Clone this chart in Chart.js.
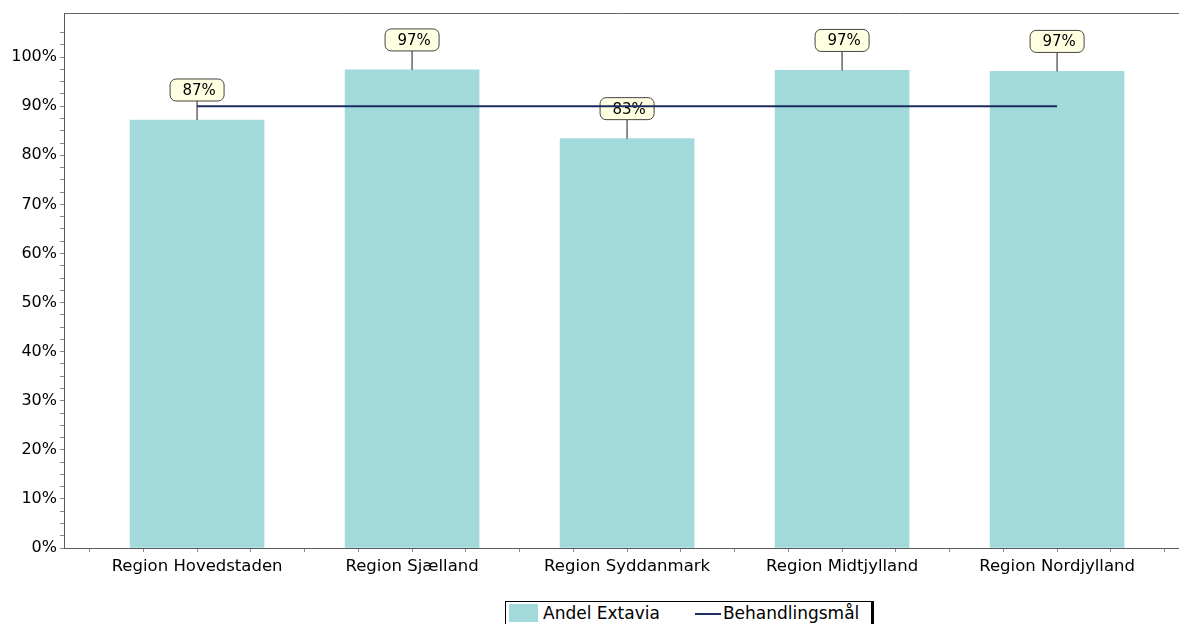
<!DOCTYPE html>
<html>
<head>
<meta charset="utf-8">
<script src="https://cdn.jsdelivr.net/npm/chart.js@4.4.1/dist/chart.umd.min.js"></script>
<style>
    html, body { margin: 0; padding: 0; background: #fff; }
    #wrap { position: relative; width: 1179px; height: 624px; overflow: hidden; }
    #legend {
        position: absolute; left: 505px; top: 601px; height: 30px;
        border-left: 1px solid #000; border-top: 1px solid #000; border-right: 3px solid #000;
        display: flex; align-items: flex-start; padding: 2px 12px 0 3px;
        font: 17px "DejaVu Sans", sans-serif; color: #000; background: #fff;
    }
    #legend .swatch { width: 29px; height: 18px; background: #A2DADC; margin-right: 5px; }
    #legend .line { width: 26px; height: 0; border-top: 2px solid #1C2C5E; margin: 9px 2px 0 35px; }
    #legend span.txt { line-height: 19px; }
</style>
</head>
<body>
<div id="wrap">
    <canvas id="extaviaChart" width="1179" height="624"></canvas>
    <div id="legend">
        <div class="swatch"></div><span class="txt">Andel Extavia</span>
        <div class="line"></div><span class="txt">Behandlingsmål</span>
    </div>
</div>
<script>
// --- data ---
const regions = ['Region Hovedstaden', 'Region Sjælland', 'Region Syddanmark', 'Region Midtjylland', 'Region Nordjylland'];
const andelExtavia = [87.2, 97.4, 83.4, 97.3, 97.1];
const behandlingsmaal = [90, 90, 90, 90, 90];
const yTickStep = 2.5;      // minor ticks; labels every 10%
const yMax = 109;

const BAR_COLOR = '#A2DADC';
const LINE_COLOR = '#1C2C5E';
const AXIS_COLOR = '#5a5a5a';
const FONT = '"DejaVu Sans", sans-serif';

// callout boxes above the bars ("87%" etc.)
const calloutPlugin = {
    id: 'callouts',
    afterDatasetDraw(chart, args) {
        if (args.index !== 0) return;
        const ctx = chart.ctx;
        const meta = chart.getDatasetMeta(0);
        ctx.save();
        ctx.font = '15px ' + FONT;
        ctx.textAlign = 'center';
        ctx.textBaseline = 'middle';
        meta.data.forEach((bar, i) => {
            const x = bar.x, top = bar.y;
            const lead = 19, w = 54, h = 22;
            ctx.strokeStyle = '#666';
            ctx.lineWidth = 1.5;
            ctx.beginPath();
            ctx.moveTo(x, top);
            ctx.lineTo(x, top - lead);
            ctx.stroke();
            ctx.beginPath();
            ctx.roundRect(x - w / 2, top - lead - h, w, h, 6);
            ctx.fillStyle = '#FFFFE1';
            ctx.fill();
            ctx.strokeStyle = '#444';
            ctx.lineWidth = 1;
            ctx.stroke();
            ctx.fillStyle = '#000';
            ctx.fillText(Math.round(andelExtavia[i]) + '%', x + 2, top - lead - h / 2 + 1);
        });
        ctx.restore();
    }
};

// top frame line of the plot area
const framePlugin = {
    id: 'frame',
    beforeDatasetsDraw(chart) {
        const { ctx, chartArea } = chart;
        ctx.save();
        ctx.strokeStyle = '#666';
        ctx.lineWidth = 1;
        ctx.beginPath();
        ctx.moveTo(chartArea.left, chartArea.top + 0.5);
        ctx.lineTo(chartArea.right, chartArea.top + 0.5);
        ctx.stroke();
        ctx.restore();
    }
};

new Chart(document.getElementById('extaviaChart'), {
    type: 'bar',
    data: {
        datasets: [{
            label: 'Andel Extavia',
            data: regions.map((r, i) => ({ x: i, y: andelExtavia[i] })),
            backgroundColor: BAR_COLOR,
            borderWidth: 0,
            barThickness: 134,
            order: 1
        }, {
            type: 'line',
            label: 'Behandlingsmål',
            data: regions.map((r, i) => ({ x: i, y: behandlingsmaal[i] })),
            borderColor: LINE_COLOR,
            borderWidth: 2,
            pointRadius: 0,
            fill: false,
            order: 0
        }]
    },
    options: {
        responsive: false,
        animation: false,
        layout: { padding: { top: 13, right: 0, bottom: 0, left: 0 } },
        plugins: {
            legend: { display: false },
            tooltip: { enabled: false }
        },
        scales: {
            x: {
                type: 'linear',
                offset: false,
                min: -0.619,
                max: 4.567,
                afterBuildTicks(scale) {
                    const ticks = [];
                    for (let v = -0.5; v <= regions.length - 0.5 + 1e-9; v += 0.25) ticks.push({ value: v });
                    scale.ticks = ticks;
                },
                afterFit(scale) { scale.height = 76; },
                grid: { offset: false, drawOnChartArea: false, drawTicks: true, tickLength: 4, color: '#888' },
                border: { color: AXIS_COLOR, width: 1 },
                ticks: {
                    autoSkip: false,
                    maxRotation: 0,
                    minRotation: 0,
                    padding: 5,
                    color: '#000',
                    font: { family: FONT, size: 16.5 },
                    callback: (v) => Number.isInteger(v) && regions[v] ? regions[v] : ''
                }
            },
            y: {
                min: 0,
                max: yMax,
                afterBuildTicks(scale) {
                    scale.ticks = scale.ticks.filter(t => Math.abs(t.value / yTickStep - Math.round(t.value / yTickStep)) < 1e-6);
                },
                afterFit(scale) { scale.width = 64; },
                grid: { drawOnChartArea: false, drawTicks: true, tickLength: 4, color: '#888' },
                border: { color: AXIS_COLOR, width: 1 },
                ticks: {
                    stepSize: yTickStep,
                    autoSkip: false,
                    padding: 3,
                    color: '#000',
                    font: { family: FONT, size: 16 },
                    callback: (v) => Math.abs(v % 10) < 1e-6 ? v + '%' : ''
                }
            }
        }
    },
    plugins: [framePlugin, calloutPlugin]
});
</script>
</body>
</html>
